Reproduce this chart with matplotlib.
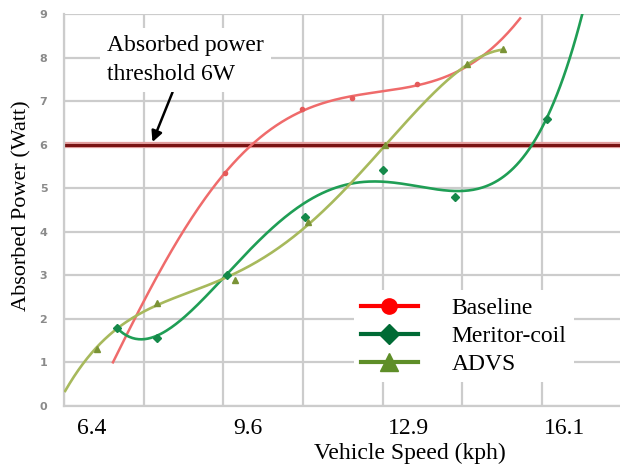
import numpy as np
import matplotlib
matplotlib.use('Agg')
import matplotlib.pyplot as plt
import matplotlib.patheffects as pe
from matplotlib.lines import Line2D
from matplotlib.ticker import FixedLocator, NullFormatter

# traced trend curves (speed in kph, absorbed power in W)
baseline_curve_x = [6.83, 7.28, 7.80, 8.21, 8.62, 9.13, 9.70, 10.26, 10.71, 11.28, 11.73,
                    12.37, 13.07, 13.54, 14.09, 14.56, 14.91, 15.18]
baseline_curve_y = [1.01, 2.02, 3.05, 3.88, 4.72, 5.34, 5.99, 6.45, 6.83, 7.00, 7.10,
                    7.22, 7.38, 7.50, 7.82, 8.17, 8.50, 8.93]

meritor_curve_x = [6.91, 7.08, 7.38, 7.73, 8.10, 8.51, 9.17, 9.85, 10.26, 10.67, 11.28, 11.69,
                   12.16, 12.66, 13.33, 13.85, 14.36, 14.83, 15.18, 15.38, 15.73, 16.00, 16.24, 16.45]
meritor_curve_y = [1.79, 1.63, 1.58, 1.56, 1.86, 2.30, 3.00, 3.88, 4.22, 4.56, 4.98, 5.11,
                   5.16, 5.11, 5.00, 4.93, 5.00, 5.25, 5.64, 5.94, 6.60, 7.32, 8.17, 8.97]

advs_curve_x = [5.85, 6.15, 6.50, 6.91, 7.28, 7.73, 8.21, 8.62, 9.17, 9.85, 10.26, 10.83,
                11.49, 12.41, 13.13, 13.54, 14.09, 14.46, 14.83]
advs_curve_y = [0.35, 0.90, 1.31, 1.76, 2.02, 2.36, 2.55, 2.75, 2.96, 3.30, 3.58, 4.22,
                4.89, 6.00, 6.85, 7.30, 7.86, 8.05, 8.19]

# measured points
baseline_x = [9.13, 10.71, 11.73, 13.07]
baseline_y = [5.34, 6.83, 7.06, 7.40]
meritor_x = [6.91, 7.73, 9.17, 10.77, 12.37, 13.84, 15.73]
meritor_y = [1.79, 1.56, 3.00, 4.34, 5.41, 4.79, 6.60]
advs_x = [6.50, 7.73, 9.33, 10.83, 12.41, 14.09, 14.83]
advs_y = [1.31, 2.36, 2.89, 4.22, 6.00, 7.86, 8.19]

threshold = 6
speed_ticks = [6.4, 9.6, 12.9, 16.1]
power_ticks = list(range(0, 10))
series_names = ['Baseline', 'Meritor-coil', 'ADVS']


# polynomial trendline through the traced curve
def trend(x, y, deg, n=300):
    coef = np.polyfit(x, y, deg)
    xs = np.linspace(min(x), max(x), n)
    return xs, np.polyval(coef, xs)


serif = 'Liberation Serif'

fig = plt.figure(figsize=(6.2, 4.68), dpi=100)
ax = fig.add_axes([64 / 620, 62 / 468, 556 / 620, 392 / 468])
ax.set_xlim(5.826, 17.228)
ax.set_ylim(0, 9)

# grid
ax.xaxis.set_minor_locator(FixedLocator(np.arange(5.826, 17.0, 1.633)))
ax.xaxis.set_minor_formatter(NullFormatter())
ax.set_xticks(speed_ticks)
ax.set_xticklabels([str(v) for v in speed_ticks], fontfamily=serif, fontsize=17)
ax.set_yticks(power_ticks)
ax.set_yticklabels([str(v) for v in power_ticks], fontfamily='DejaVu Sans',
                   fontweight='bold', fontsize=8, color='#8a8a8a')
ax.grid(which='minor', axis='x', color='#cccccc', lw=1.6)
ax.grid(which='major', axis='y', color='#cccccc', lw=1.6)
ax.tick_params(which='both', length=0)
ax.tick_params(axis='x', pad=9)
ax.tick_params(axis='y', pad=12)
for s in ['top', 'right']:
    ax.spines[s].set_visible(False)
for s in ['left', 'bottom']:
    ax.spines[s].set_color('#cccccc')
    ax.spines[s].set_linewidth(1.6)
ax.set_axisbelow(True)

# threshold line
ax.axhline(threshold, color='#7a1414', lw=2.2, zorder=2,
           path_effects=[pe.Stroke(linewidth=4.5, foreground='#e3a0a0'), pe.Normal()])

# trend lines
ax.plot(*trend(baseline_curve_x, baseline_curve_y, 5), color='#ef6b6b', lw=1.8, zorder=3)
ax.plot(*trend(meritor_curve_x, meritor_curve_y, 8), color='#1f9e55', lw=1.9, zorder=3)
ax.plot(*trend(advs_curve_x, advs_curve_y, 5), color='#a7b95c', lw=1.9, zorder=3)

# data points
ax.plot(baseline_x, baseline_y, 'o', color='#e55a5a', ms=3, zorder=4)
ax.plot(meritor_x, meritor_y, 'D', color='#15894a', ms=4.5, zorder=4)
ax.plot(advs_x, advs_y, '^', color='#7a9336', ms=5, zorder=4)

# annotation for the threshold
ax.annotate('Absorbed power\nthreshold 6W', xy=(7.64, 6.06), xytext=(6.71, 7.94),
            ha='left', va='center', fontfamily=serif, fontsize=17, linespacing=1.5,
            bbox=dict(boxstyle='square,pad=0.3', fc='white', ec='none'),
            arrowprops=dict(arrowstyle='-|>', color='black', lw=1.8, mutation_scale=16,
                            shrinkA=0, shrinkB=0),
            zorder=5)

# legend
handles = [
    Line2D([], [], color='#ff0000', lw=3, marker='o', ms=11),
    Line2D([], [], color='#006b35', lw=3, marker='D', ms=10),
    Line2D([], [], color='#5e8e28', lw=3, marker='^', ms=13),
]
leg = ax.legend(handles, series_names, loc='upper left', bbox_to_anchor=(0.50, 0.325),
                prop={'family': serif, 'size': 17}, frameon=True, facecolor='white',
                edgecolor='none', framealpha=1, fancybox=False, handlelength=2.4,
                handletextpad=1.45, labelspacing=0.28, borderpad=0.3)
leg.set_zorder(6)

ax.set_ylabel('Absorbed Power (Watt)', fontfamily=serif, fontsize=16)
ax.yaxis.set_label_coords(-0.058, 0.51)
ax.set_xlabel('Vehicle Speed (kph)', fontfamily=serif, fontsize=17)
ax.xaxis.set_label_coords(0.622, -0.094)

fig.savefig('out.png', dpi=100, facecolor='white')
